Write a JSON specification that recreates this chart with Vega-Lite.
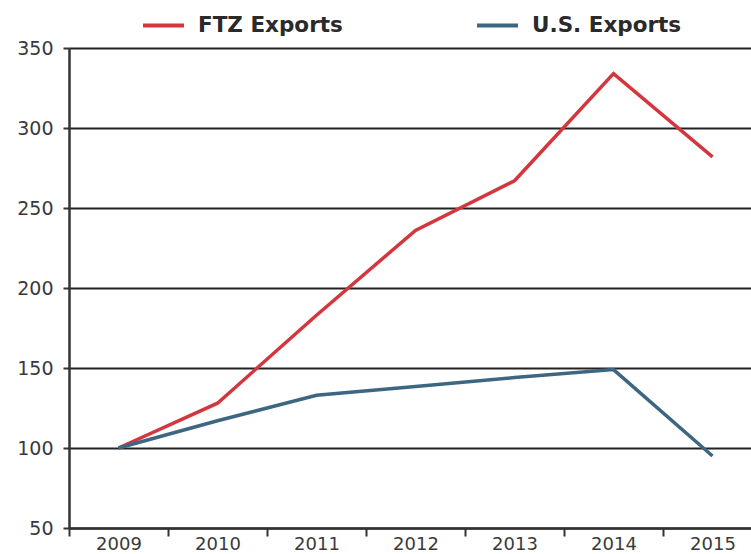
{
  "$schema": "https://vega.github.io/schema/vega-lite/v6.json",
  "width": 693,
  "height": 480,
  "autosize": "none",
  "padding": {"left": 69, "top": 48, "right": 0, "bottom": 26},
  "background": "white",
  "config": {"view": {"stroke": null}, "font": "DejaVu Sans"},
  "data": {
    "values": [
      {"year": "2009", "series": "FTZ Exports", "value": 100},
      {"year": "2010", "series": "FTZ Exports", "value": 128},
      {"year": "2011", "series": "FTZ Exports", "value": 183},
      {"year": "2012", "series": "FTZ Exports", "value": 236},
      {"year": "2013", "series": "FTZ Exports", "value": 267},
      {"year": "2014", "series": "FTZ Exports", "value": 334},
      {"year": "2015", "series": "FTZ Exports", "value": 282},
      {"year": "2009", "series": "U.S. Exports", "value": 100},
      {"year": "2010", "series": "U.S. Exports", "value": 117},
      {"year": "2011", "series": "U.S. Exports", "value": 133},
      {"year": "2012", "series": "U.S. Exports", "value": 138.5},
      {"year": "2013", "series": "U.S. Exports", "value": 144},
      {"year": "2014", "series": "U.S. Exports", "value": 149},
      {"year": "2015", "series": "U.S. Exports", "value": 95}
    ]
  },
  "mark": {"type": "line", "strokeWidth": 3.5},
  "encoding": {
    "x": {
      "field": "year",
      "type": "ordinal",
      "bandPosition": 0.5,
      "scale": {"type": "band", "paddingInner": 0, "paddingOuter": 0},
      "axis": {
        "title": null,
        "labelAngle": 0,
        "tickBand": "extent",
        "tickSize": 8,
        "tickWidth": 2,
        "tickColor": "#333",
        "domainColor": "#333",
        "domainWidth": 2.5,
        "labelFontSize": 18,
        "labelColor": "#3a3a3a",
        "labelPadding": -1
      }
    },
    "y": {
      "field": "value",
      "type": "quantitative",
      "scale": {"domain": [50, 350], "nice": false, "zero": false},
      "axis": {
        "title": null,
        "values": [50, 100, 150, 200, 250, 300, 350],
        "grid": true,
        "gridColor": "#222",
        "gridWidth": 2,
        "domainColor": "#333",
        "domainWidth": 2.5,
        "tickColor": "#333",
        "tickWidth": 2,
        "tickSize": 6,
        "labelFontSize": 19,
        "labelColor": "#3a3a3a",
        "labelPadding": 10
      }
    },
    "color": {
      "field": "series",
      "type": "nominal",
      "scale": {"domain": ["FTZ Exports", "U.S. Exports"], "range": ["#d4363e", "#3d6680"]},
      "legend": {
        "title": null,
        "orient": "none",
        "direction": "horizontal",
        "legendX": 72,
        "legendY": -45,
        "symbolType": "stroke",
        "symbolSize": 1681,
        "symbolStrokeWidth": 4,
        "labelFontSize": 21.5,
        "labelFontWeight": "bold",
        "labelColor": "#2a2a2a",
        "labelOffset": 12,
        "columnPadding": 126
      }
    }
  }
}
